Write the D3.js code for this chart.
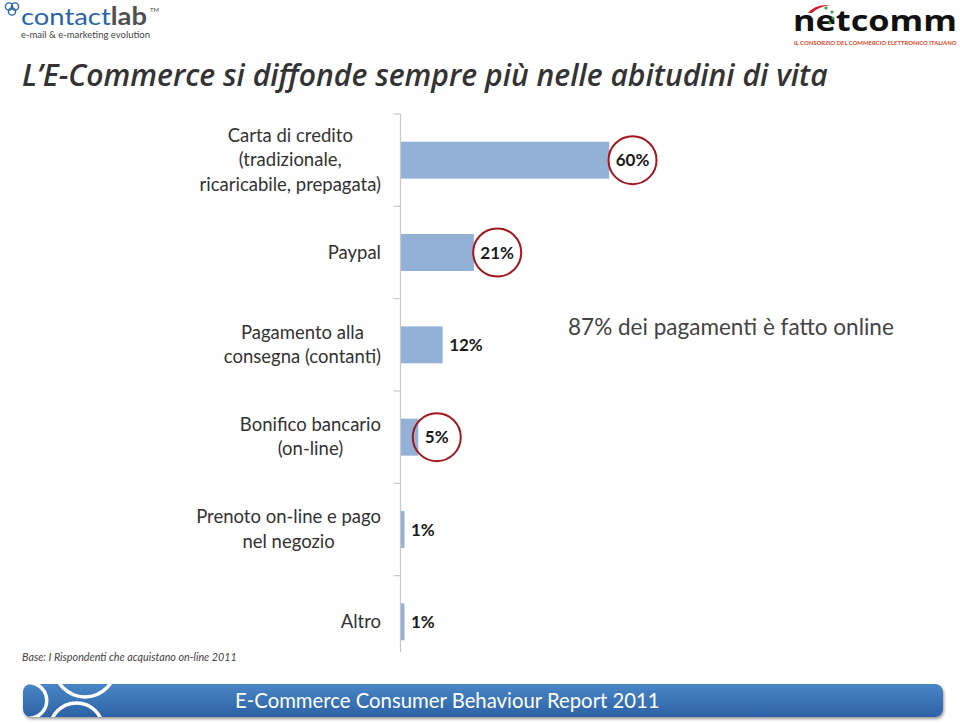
<!DOCTYPE html>
<html>
<head>
<meta charset="utf-8">
<script src="https://cdn.jsdelivr.net/npm/d3@7"></script>
<style>
  body { margin: 0; background: #fff; }
  svg { display: block; }
</style>
</head>
<body>
<svg id="chart" width="960" height="724"></svg>
<script>
// data
var categories = [
  ['Carta di credito', '(tradizionale,', 'ricaricabile, prepagata)'],
  ['Paypal'],
  ['Pagamento alla', 'consegna (contanti)'],
  ['Bonifico bancario', '(on-line)'],
  ['Prenoto on-line e pago', 'nel negozio'],
  ['Altro']
]
var values = [60, 21, 12, 5, 1, 1]
var circled = [true, true, false, true, false, false]

var svg = d3.select('#chart')
var labelFont = 'Lato, "Open Sans", sans-serif'

// fit a text element to a target width by scaling its font size
function fit(sel, target) {
  var w = sel.node().getComputedTextLength()
  var fs = parseFloat(sel.attr('font-size'))
  sel.attr('font-size', fs * target / w)
  return sel
}

// ---- header: logos and title
var cl = svg.append('g').attr('class', 'contactlab')
;[[9, 6.5], [15, 6.5], [12, 11.5]].forEach(function(c) {
  cl.append('circle').attr('cx', c[0]).attr('cy', c[1]).attr('r', 3.6)
    .attr('fill', 'none').attr('stroke', '#2a64a8').attr('stroke-width', 1.4)
})
var clt = cl.append('text').attr('x', 21).attr('y', 25)
  .attr('font-family', labelFont).attr('font-size', 24)
  .attr('textLength', 126).attr('lengthAdjust', 'spacingAndGlyphs')
clt.append('tspan').attr('fill', '#2a64a8').text('contact')
clt.append('tspan').attr('fill', '#505050').attr('font-weight', 'bold').text('lab')
cl.append('text').attr('x', 150).attr('y', 12).attr('font-family', labelFont)
  .attr('font-size', 6).attr('fill', '#505050').text('TM')
fit(cl.append('text').attr('x', 21).attr('y', 38).attr('font-family', labelFont)
  .attr('font-size', 9).attr('fill', '#444').text('e-mail & e-marketing evolution'), 129)

var nc = svg.append('g').attr('class', 'netcomm')
nc.append('text').attr('x', 793).attr('y', 31).attr('font-family', '"Open Sans", sans-serif')
  .attr('font-weight', 'bold').attr('font-size', 28).attr('fill', '#111')
  .attr('textLength', 164).attr('lengthAdjust', 'spacingAndGlyphs').text('netcomm')
nc.append('path').attr('d', 'M808,13 Q815,4 830,5 Q818,7 812,13 Z').attr('fill', '#d0202a')
;[[826, 8], [832, 12], [833, 18], [830, 23]].forEach(function(p) {
  nc.append('circle').attr('cx', p[0]).attr('cy', p[1]).attr('r', 1.6).attr('fill', '#3aa040')
})
fit(nc.append('text').attr('x', 794).attr('y', 45).attr('font-family', labelFont)
  .attr('font-size', 6).attr('font-weight', 'bold').attr('fill', '#d24a2a')
  .text('IL CONSORZIO DEL COMMERCIO ELETTRONICO ITALIANO'), 163)

fit(svg.append('text').attr('x', 22).attr('y', 86).attr('font-family', '"Open Sans", sans-serif')
  .attr('font-style', 'italic').attr('font-weight', 600).attr('font-size', 30)
  .attr('fill', '#333').text('L\u2019E-Commerce si diffonde sempre più nelle abitudini di vita'), 806)

// ---- chart
var x = d3.scaleLinear().domain([0, 100]).range([400.5, 747.5])
var y = d3.scaleBand().domain(d3.range(values.length))
  .range([114, 668]).paddingInner(0.6).paddingOuter(0.3)
var step = y.step()

var axis = svg.append('g').attr('class', 'axis')
axis.append('line').attr('x1', x(0)).attr('x2', x(0)).attr('y1', 114).attr('y2', 652)
  .attr('stroke', '#c8c8c8').attr('stroke-width', 1.2)
axis.selectAll('line.tick').data(d3.range(values.length))
  .join('line').attr('class', 'tick')
  .attr('x1', x(0) - 7).attr('x2', x(0))
  .attr('y1', function(d) { return y(d) - step * 0.3 })
  .attr('y2', function(d) { return y(d) - step * 0.3 })
  .attr('stroke', '#c8c8c8').attr('stroke-width', 1.2)

svg.append('g').selectAll('rect').data(values).join('rect')
  .attr('x', x(0) + 0.5)
  .attr('y', function(d, i) { return y(i) })
  .attr('width', function(d) { return x(d) - x(0) })
  .attr('height', y.bandwidth())
  .attr('fill', '#93b1d6')

// category labels: centred block, right edge near the axis
var cat = svg.append('g').attr('class', 'categories')
categories.forEach(function(lines, i) {
  var cy = y(i) + y.bandwidth() / 2
  var lh = 24.5
  var g = cat.append('g')
  var ts = lines.map(function(l, j) {
    return g.append('text').attr('font-family', labelFont).attr('font-size', 18.5)
      .attr('fill', '#333').attr('text-anchor', 'middle')
      .attr('y', cy + (j - (lines.length - 1) / 2) * lh + 6).text(l)
  })
  var wmax = d3.max(ts, function(t) { return t.node().getComputedTextLength() })
  ts.forEach(function(t) { t.attr('x', 381 - wmax / 2) })
})

// value labels with red circles
var vl = svg.append('g').attr('class', 'values')
values.forEach(function(v, i) {
  var cy = y(i) + y.bandwidth() / 2
  var t = vl.append('text').attr('x', x(v) + 7).attr('y', cy + 6)
    .attr('font-family', labelFont).attr('font-weight', 'bold').attr('font-size', 17)
    .attr('fill', '#1a1a1a').text(v + '%')
  if (circled[i]) {
    var w = t.node().getComputedTextLength()
    vl.append('circle').attr('cx', x(v) + 7 + w / 2).attr('cy', cy)
      .attr('r', 24).attr('fill', 'none').attr('stroke', '#a3161c').attr('stroke-width', 2)
  }
})

fit(svg.append('text').attr('x', 568).attr('y', 335).attr('font-family', labelFont)
  .attr('font-size', 21).attr('fill', '#444').text('87% dei pagamenti è fatto online'), 326)

fit(svg.append('text').attr('x', 22).attr('y', 661).attr('font-family', labelFont)
  .attr('font-style', 'italic').attr('font-size', 10).attr('fill', '#444')
  .text('Base: I Rispondenti che acquistano on-line 2011'), 215)

// ---- footer banner
var defs = svg.append('defs')
var grad = defs.append('linearGradient').attr('id', 'band').attr('x1', 0).attr('x2', 0).attr('y1', 0).attr('y2', 1)
grad.append('stop').attr('offset', '0%').attr('stop-color', '#4a86c6')
grad.append('stop').attr('offset', '100%').attr('stop-color', '#2c62a6')
var shadow = defs.append('filter').attr('id', 'shadow')
shadow.append('feDropShadow').attr('dx', 1).attr('dy', 2).attr('stdDeviation', 1.5).attr('flood-opacity', 0.4)
defs.append('clipPath').attr('id', 'bandclip').append('rect')
  .attr('x', 23).attr('y', 684).attr('width', 920).attr('height', 33).attr('rx', 8)

var ft = svg.append('g').attr('class', 'footer')
ft.append('rect').attr('x', 23).attr('y', 684).attr('width', 920).attr('height', 33).attr('rx', 8)
  .attr('fill', 'url(#band)').attr('filter', 'url(#shadow)')
var arcs = ft.append('g').attr('clip-path', 'url(#bandclip)')
var halfArc = d3.arc().innerRadius(16).outerRadius(19.5).startAngle(0).endAngle(Math.PI)
arcs.append('path').attr('transform', 'translate(29,700.5)').attr('d', halfArc()).attr('fill', '#fff')
;[[85, 666.5, 30.5], [76.5, 729.7, 26.7]].forEach(function(c) {
  arcs.append('circle').attr('cx', c[0]).attr('cy', c[1]).attr('r', c[2])
    .attr('fill', 'none').attr('stroke', '#fff').attr('stroke-width', 3.5)
})
fit(ft.append('text').attr('x', 235).attr('y', 708).attr('font-family', labelFont)
  .attr('font-size', 21).attr('fill', '#fff').text('E-Commerce Consumer Behaviour Report 2011'), 425)
</script>
</body>
</html>
